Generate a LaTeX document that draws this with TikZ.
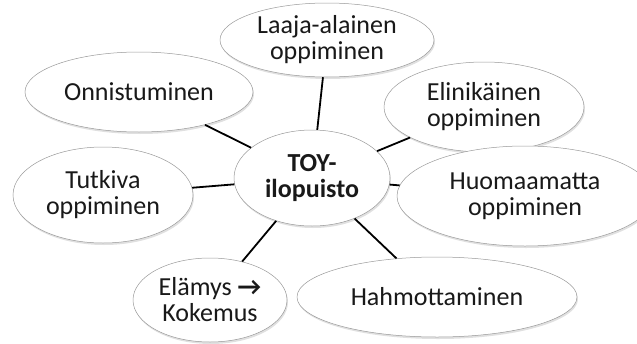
\documentclass[tikz,border=0pt]{standalone}
\usepackage{fontspec}
\setmainfont{Carlito}
\usetikzlibrary{shapes.geometric,shadows}
\begin{document}
\begin{tikzpicture}[x=1pt,y=-1pt,
  bub/.style={ellipse,draw=black!40,line width=0.5pt,fill=white,inner sep=0pt,
    align=center,font=\fontsize{26}{26}\selectfont,text=black!90,
    drop shadow={shadow xshift=1pt,shadow yshift=-2pt,opacity=0.12,fill=black}},
  link/.style={line width=1.8pt,black}]
\useasboundingbox (0,0) rectangle (637,343);
\node[bub,minimum width=214pt,minimum height=74pt] (laaja) at (327,40) {Laaja-alainen\\oppiminen};
\node[bub,minimum width=228pt,minimum height=80pt] (onni) at (139,92) {Onnistuminen};
\node[bub,minimum width=200pt,minimum height=90pt] (elin) at (484,107) {Elinikäinen\\oppiminen};
\node[bub,minimum width=180pt,minimum height=96pt] (tutk) at (103,195) {Tutkiva\\oppiminen};
\node[bub,minimum width=256pt,minimum height=100pt] (huom) at (525,196) {Huomaamatta\\oppiminen};
\node[bub,minimum width=280pt,minimum height=80pt] (hahm) at (437,297) {Hahmottaminen};
\node[bub,minimum width=154pt,minimum height=84pt] (elam) at (210,300) {Elämys {\bfseries →}\\Kokemus};
\node[bub,minimum width=156pt,minimum height=96pt,font=\bfseries\fontsize{26}{26}\selectfont] (toy) at (312,178) {TOY-\\ilopuisto};
\draw[link] (toy) -- (laaja);
\draw[link] (toy) -- (onni);
\draw[link] (toy) -- (elin);
\draw[link] (toy) -- (tutk);
\draw[link] (toy) -- (huom);
\draw[link] (toy) -- (hahm);
\draw[link] (toy) -- (elam);
\end{tikzpicture}
\end{document}
